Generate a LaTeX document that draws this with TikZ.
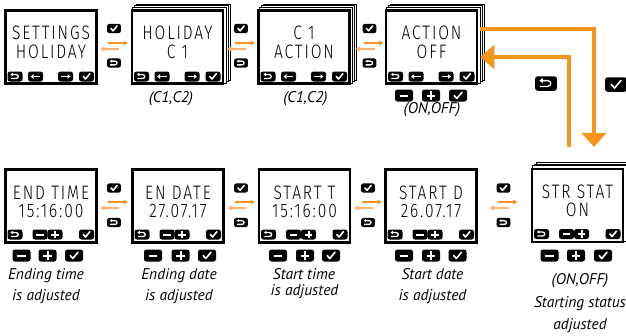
\documentclass[tikz,border=0pt]{standalone}
\usepackage{fontspec}
\setmainfont{PT Sans}
\newfontfamily\lcdfont{Fira Sans Light}[LetterSpace=12]
\usetikzlibrary{arrows.meta,calc}
\definecolor{org}{HTML}{F7941D}
\definecolor{orgl}{HTML}{FBB272}
\tikzset{
  keybg/.style={fill=black,rounded corners=2.5pt},
  pics/kret/.style={code={\fill[keybg] (-7.5,-5) rectangle (7.5,5);
    \draw[white,line width=1.3pt] (-2.5,-2) -- (1,-2) .. controls (4,-2) and (4,2) .. (1,2) -- (-4.2,2);
    \fill[white] (-4.6,-2) -- (-2.2,-3.7) -- (-2.2,-0.3) -- cycle;}},
  pics/kcheck/.style={code={\fill[keybg] (-7.5,-5) rectangle (7.5,5);
    \draw[white,line width=1.6pt,line cap=round,line join=round] (-3.2,0) -- (-1,2.5) -- (3.4,-2.8);}},
  pics/kminus/.style={code={\fill[keybg] (-7.5,-5) rectangle (7.5,5);
    \draw[white,line width=2pt] (-3.6,0) -- (3.6,0);}},
  pics/kplus/.style={code={\fill[keybg] (-7.5,-5) rectangle (7.5,5);
    \draw[white,line width=2pt] (-3.6,0) -- (3.6,0) (0,-3.6) -- (0,3.6);}},
  pics/kleft/.style={code={\fill[keybg] (-7.5,-5) rectangle (7.5,5);
    \draw[white,line width=1.8pt] (-2,0) -- (4.5,0);
    \fill[white] (-4.8,0) -- (-2,-2.4) -- (-2,2.4) -- cycle;}},
  pics/kright/.style={code={\fill[keybg] (-7.5,-5) rectangle (7.5,5);
    \draw[white,line width=1.8pt] (2,0) -- (-4.5,0);
    \fill[white] (4.8,0) -- (2,-2.4) -- (2,2.4) -- cycle;}},
  screen/.style={draw=black,line width=2.6pt,fill=white,minimum width=91pt,minimum height=73pt,inner sep=0pt},
  sheet/.style={draw=black,line width=0.7pt,fill=white},
  lcd/.style={font=\lcdfont\fontsize{19.5}{19.5}\selectfont,inner sep=0pt,anchor=base,text height=14pt,text depth=0pt},
  lbl/.style={font=\itshape\fontsize{15.5}{17}\selectfont,inner sep=0pt,anchor=base},
  smallarr/.style={line width=1.3pt,-{Triangle[length=4.5pt,width=4.5pt]}},
  bigarr/.style={draw=org,line width=4.5pt,-{Triangle[length=14pt,width=24pt]}},
}
% stacked sheets behind a screen
\newcommand\sheets[2]{%
  \foreach \dx/\dy in {6/-5,4/-3.3,2/-1.7}{%
    \draw[sheet] ({#1-46.8+\dx},{#2-38+\dy}) rectangle ({#1+46.8+\dx},{#2+38+\dy});}}
% screen with arrows in the key row
\newcommand\navscreen[5]{%
  \node[screen] (#1) at (#2,#3) {};
  \node[lcd] (#1-a) at ([yshift=7.5pt]#1.center) {\scalebox{0.8}[1]{#4}};
  \node[lcd] (#1-b) at ([yshift=-11pt]#1.center) {\scalebox{0.8}[1]{#5}};
  \pic at ($(#1.center)+(-36,29.5)$) {kret};
  \pic at ($(#1.center)+(-15.5,29.5)$) {kleft};
  \pic at ($(#1.center)+(14.5,29.5)$) {kright};
  \pic at ($(#1.center)+(35.5,29.5)$) {kcheck};}
% screen with minus/plus in the key row
\newcommand\setscreen[5]{%
  \node[screen] (#1) at (#2,#3) {};
  \node[lcd] (#1-a) at ([yshift=7pt]#1.center) {\scalebox{0.8}[1]{#4}};
  \node[lcd] (#1-b) at ([yshift=-11pt]#1.center) {\scalebox{0.8}[1]{#5}};
  \pic at ($(#1.center)+(-36,28.5)$) {kret};
  \pic at ($(#1.center)+(-11,28.5)$) {kminus};
  \pic at ($(#1.center)+(4,28.5)$) {kplus};
  \pic at ($(#1.center)+(35.5,28.5)$) {kcheck};}
% minus plus check keys below a screen
\newcommand\outkeys[4]{%
  \pic[scale=1.2] at (#1,#4) {kminus};
  \pic[scale=1.2] at (#2,#4) {kplus};
  \pic[scale=1.2] at (#3,#4) {kcheck};}
% icons and arrows in a gap: cx, ycheck, yright, yleft, yret
\newcommand\gapicons[5]{%
  \pic[scale=0.93] at (#1,#2) {kcheck};
  \draw[smallarr,org] (#1-6,#3) -- (#1+14,#3);
  \draw[smallarr,orgl] (#1+5,#4) -- (#1-14,#4);
  \pic[scale=0.93] at (#1,#5) {kret};}
\begin{document}
\begin{tikzpicture}[x=1pt,y=-1pt]
\useasboundingbox (0,0) rectangle (626,335);
% top row
\navscreen{s1}{51}{47}{SETTINGS}{HOLIDAY}
\sheets{177.5}{47}
\navscreen{s2}{177.5}{47}{HOLIDAY}{C 1}
\sheets{304}{47}
\navscreen{s3}{304}{47}{C 1}{ACTION}
\sheets{431.5}{47}
\navscreen{s4}{431.5}{47}{ACTION}{OFF}
\gapicons{114}{28.5}{43}{49}{63}
\gapicons{241}{28.5}{43}{49}{63}
\gapicons{369.5}{28.5}{43}{49}{63}
\outkeys{404}{431}{458}{95.5}
\node[lbl] (c1) at (171,102) {(C1,C2)};
\node[lbl] (c2) at (305.5,102) {(C1,C2)};
\node[lbl] (c3) at (432,113.5) {(ON,OFF)};
% bottom row
\setscreen{sa}{51}{206}{END TIME}{15:16:00}
\setscreen{sb}{178}{206}{EN DATE}{27.07.17}
\setscreen{sc}{304.5}{206}{START T}{15:16:00}
\setscreen{sd}{431}{206}{START D}{26.07.17}
\sheets{577.5}{205.5}
\setscreen{se}{577.5}{205.5}{STR STAT}{ON}
\gapicons{114}{188}{202}{208}{222.5}
\gapicons{241}{188}{202}{208}{222.5}
\gapicons{368}{188}{202}{208}{222.5}
\gapicons{503.5}{188}{202}{208}{222.5}
\outkeys{21.5}{47.5}{74}{255.5}
\outkeys{153}{180.5}{207}{255.5}
\outkeys{278}{305}{331}{255.5}
\outkeys{404}{431}{457.5}{255.5}
\outkeys{549.5}{576}{603}{255.5}
\node[lbl] (la1) at (46,279) {Ending time};
\node[lbl] (la2) at (46,300) {is adjusted};
\node[lbl] (lb1) at (179,279) {Ending date};
\node[lbl] (lb2) at (179,300) {is adjusted};
\node[lbl] (lc1) at (304,279) {Start time};
\node[lbl] (lc2) at (304.5,295) {is adjusted};
\node[lbl] (ld1) at (432.5,279) {Start date};
\node[lbl] (ld2) at (432.5,300) {is adjusted};
\node[lbl] (le1) at (580,284) {(ON,OFF)};
\node[lbl] (le2) at (580,307) {Starting status};
\node[lbl] (le3) at (580,329) {adjusted};
% big connectors
\coordinate (ein) at (594,147);
\coordinate (eout) at (569,147);
\draw[bigarr] ([xshift=2pt,yshift=18pt]s4.east) -| (ein);
\draw[bigarr] (eout) |- ([xshift=2pt,yshift=-10pt]s4.east);
\pic[scale=1.45] at (546,83.5) {kret};
\pic[scale=1.45] at (616,84.5) {kcheck};
\end{tikzpicture}
\end{document}
